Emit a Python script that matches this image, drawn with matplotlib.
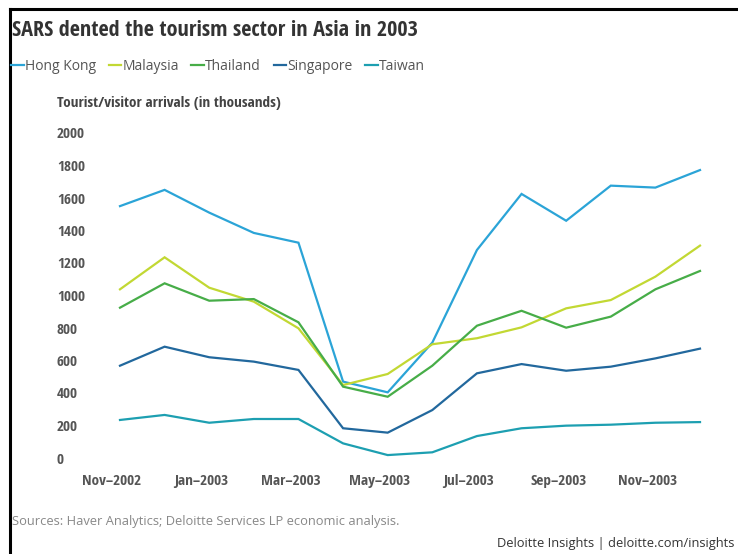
import matplotlib
matplotlib.use("Agg")
import matplotlib.pyplot as plt
import matplotlib.transforms as mtransforms
from matplotlib import font_manager
from matplotlib.font_manager import FontProperties
from matplotlib.lines import Line2D

plt.rcParams['font.family'] = ['Open Sans', 'DejaVu Sans']

months = ['Nov–2002', 'Dec–2002', 'Jan–2003', 'Feb–2003', 'Mar–2003', 'Apr–2003', 'May–2003',
          'Jun–2003', 'Jul–2003', 'Aug–2003', 'Sep–2003', 'Oct–2003', 'Nov–2003', 'Dec–2003']

hong_kong = [1550, 1650, 1510, 1385, 1325, 470, 404, 710, 1280, 1625, 1460, 1676, 1664, 1772]
malaysia = [1038, 1235, 1048, 962, 798, 449, 517, 700, 737, 804, 921, 972, 1116, 1307]
thailand = [925, 1075, 968, 978, 835, 439, 377, 568, 814, 906, 802, 870, 1038, 1151]
singapore = [568, 685, 620, 593, 542, 183, 156, 295, 521, 578, 537, 562, 613, 673]
taiwan = [234, 265, 217, 240, 240, 90, 18, 35, 135, 183, 199, 205, 217, 221]

series = [('Hong Kong', hong_kong, '#2ba4d7'),
          ('Malaysia', malaysia, '#c2d833'),
          ('Thailand', thailand, '#47ad48'),
          ('Singapore', singapore, '#22689d'),
          ('Taiwan', taiwan, '#1d9fb1')]


def condensed_bold():
    # look for a narrow/condensed bold face among the installed fonts
    best = None
    for f in font_manager.fontManager.ttflist:
        name = (f.name + ' ' + f.fname).lower()
        narrow = ('narrow' in name or 'condensed' in name or
                  str(f.stretch) in ('condensed', 'semi-condensed', 'extra-condensed'))
        bold = f.weight in ('bold', 700, 'semibold', 600) or 'bold' in f.fname.lower()
        if narrow and bold and 'oblique' not in name and 'italic' not in name:
            rank = 0 if 'liberation' in name else (1 if 'open' in name else (2 if 'roboto' in name else 3))
            if best is None or rank < best[0]:
                best = (rank, f.fname)
    if best:
        return FontProperties(fname=best[1])
    return FontProperties(family='DejaVu Sans', weight='bold', stretch='condensed')


cfont = condensed_bold()

W, H = 738, 554
fig = plt.figure(figsize=(W / 100, H / 100), dpi=100)
fig.patch.set_facecolor('white')

left_px, right_px = 100, 720
top_px, bot_px = 116.75, 474.25
ax = fig.add_axes([left_px / W, 1 - bot_px / H, (right_px - left_px) / W, (bot_px - top_px) / H])

x = list(range(len(months)))
for name, vals, col in series:
    ax.plot(x, vals, color=col, lw=1.6, solid_joinstyle='miter', label=name)

ax.set_xlim(-0.448, 13.448)
ax.set_ylim(-100, 2100)
ax.set_yticks(range(0, 2001, 200))
ax.set_xticks(x[::2])
ax.set_xticklabels(months[::2])
for s in ax.spines.values():
    s.set_visible(False)
ax.tick_params(length=0)
ax.tick_params(axis='y', pad=31)
ax.tick_params(axis='x', pad=0)

for lab in ax.get_yticklabels():
    lab.set_horizontalalignment('left')
    lab.set_fontproperties(cfont)
    lab.set_fontsize(11)
    lab.set_color('#555555')
shift = mtransforms.ScaledTranslation(-8 / 100, 0, fig.dpi_scale_trans)
for lab in ax.get_xticklabels():
    lab.set_fontproperties(cfont)
    lab.set_fontsize(11)
    lab.set_color('#555555')
    lab.set_transform(lab.get_transform() + shift)

t = fig.text(12 / W, 1 - 31 / H, 'SARS dented the tourism sector in Asia in 2003',
             fontproperties=cfont, color='#333333', va='center', ha='left')
t.set_fontsize(16)

handles = [Line2D([], [], color=c, lw=1.6) for _, _, c in series]
leg = fig.legend(handles, [n for n, _, _ in series], loc='center left',
                 bbox_to_anchor=(11 / W, 1 - 66 / H), ncol=5, frameon=False,
                 handlelength=0.9, handletextpad=0.1, columnspacing=0.9,
                 borderaxespad=0, borderpad=0, fontsize=10)
for lt in leg.get_texts():
    lt.set_color('#555555')

yl = fig.text(57 / W, 1 - 103 / H, 'Tourist/visitor arrivals (in thousands)',
              fontproperties=cfont, color='#444444', va='center', ha='left')
yl.set_fontsize(11)

fig.text(12 / W, 1 - 521 / H, 'Sources: Haver Analytics; Deloitte Services LP economic analysis.',
         fontsize=9.3, color='#888888', va='center', ha='left')
fig.text(734 / W, 1 - 543 / H, 'Deloitte Insights | deloitte.com/insights',
         fontsize=9.3, color='#333333', va='center', ha='right')

# black frame on top and left
fig.add_artist(Line2D([9.5 / W, 9.5 / W], [0, 1 - 9 / H], color='black', lw=2.2,
                      transform=fig.transFigure, solid_capstyle='projecting'))
fig.add_artist(Line2D([9.5 / W, 1], [1 - 9 / H, 1 - 9 / H], color='black', lw=2.2,
                      transform=fig.transFigure, solid_capstyle='projecting'))

fig.savefig('out.png', dpi=100, facecolor='white')
